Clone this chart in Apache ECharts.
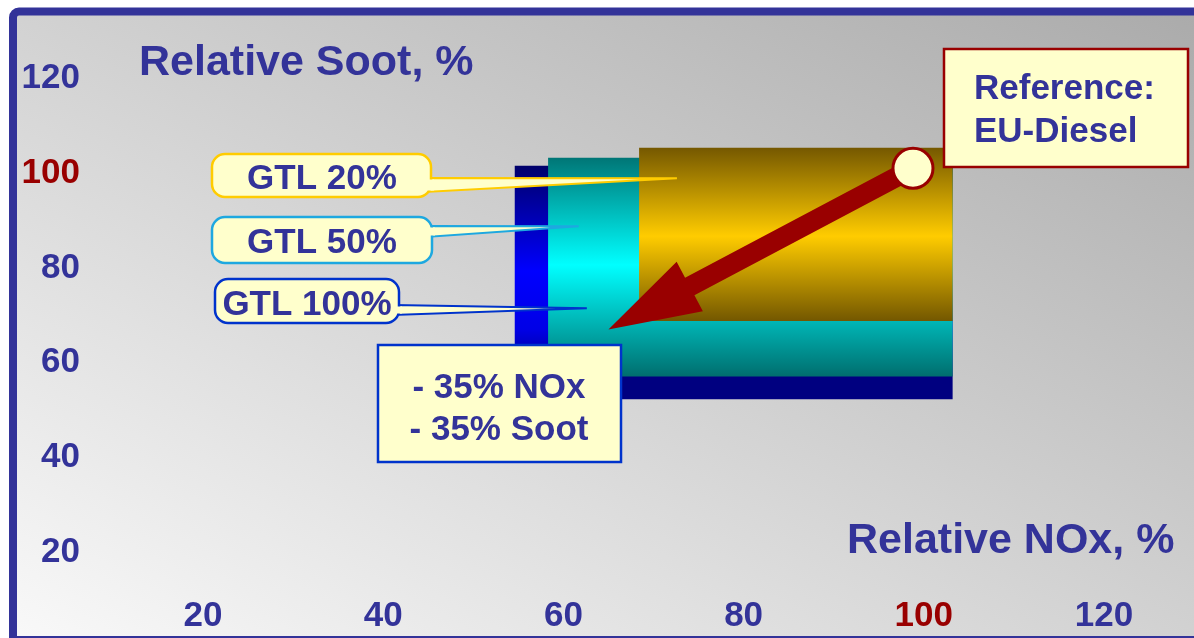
<!DOCTYPE html>
<html>
<head>
<meta charset="utf-8">
<title>GTL blends: relative soot vs. relative NOx</title>
<script src="https://cdn.jsdelivr.net/npm/echarts@6/dist/echarts.min.js"></script>
<style>
  html, body { margin: 0; padding: 0; background: #ffffff; }
  #chart { width: 1194px; height: 638px; }
</style>
</head>
<body>
<div id="chart"></div>
<script>
// ---- Data -------------------------------------------------------------
// Labelled ticks on both axes (% of EU-Diesel)
const tickValues = [20, 40, 60, 80, 100, 120];

// Emission ranges of each fuel blend, in % of EU-Diesel
const blendNames     = ['GTL 100%', 'GTL 50%', 'GTL 20%'];
const blendNoxFrom   = [54.6, 58.3, 68.4];
const blendNoxTo     = [103.2, 103.2, 103.2];
const blendSootFrom  = [52.3, 57.1, 68.8];
const blendSootTo    = [101.5, 103.2, 105.3];

// Points the callout pointers lead to
const calloutNames = ['GTL 20%', 'GTL 50%', 'GTL 100%'];
const calloutNox   = [72.6, 61.7, 62.6];
const calloutSoot  = [98.9, 88.8, 71.5];

// Reference fuel (EU-Diesel) and the end of the reduction arrow
const referencePoint = [98.8, 101];
const reductionPoint = [65, 67];

// ---- Styling ------------------------------------------------------------
const INK = '#333399';
const RED = '#990000';
const PAPER = '#ffffcc';
const FAMILY = '"Liberation Sans", Arial, Helvetica, sans-serif';
const FONT_BODY = 'bold 35px ' + FAMILY;
const FONT_TITLE = 'bold 43px ' + FAMILY;

// Cylinder-like shading (dark - bright - dark) for each blend, same order as blendNames
const blendShades = [
  [['0', '#00006a'], ['0.45', '#0000ff'], ['0.7', '#0000e6'], ['0.9', '#000080'], ['1', '#000080']],
  [['0', '#007676'], ['0.49', '#00ffff'], ['1', '#006e6e']],
  [['0', '#755800'], ['0.51', '#ffcc00'], ['1', '#735700']]
];

// Callout boxes, in pixels, same order as calloutNames
const calloutBoxes = [
  { x: 212, y: 154, w: 219, h: 43, color: '#ffcc00', wedge: [178, 192], tx: 322, ty: 179 },
  { x: 212, y: 217, w: 220, h: 46, color: '#1ea8e0', wedge: [226, 237], tx: 322, ty: 243 },
  { x: 215, y: 279, w: 184, h: 44, color: '#0033cc', wedge: [305, 315], tx: 307, ty: 305 }
];

const blendData = blendNames.map((n, i) => ({
  name: n,
  value: [blendNoxFrom[i], blendSootFrom[i], blendNoxTo[i], blendSootTo[i]]
}));
const calloutData = calloutNames.map((n, i) => ({ name: n, value: [calloutNox[i], calloutSoot[i]] }));

function renderBlend(params, api) {
  const topLeft = api.coord([api.value(0), api.value(3)]);
  const bottomRight = api.coord([api.value(2), api.value(1)]);
  const stops = blendShades[params.dataIndex].map(s => ({ offset: +s[0], color: s[1] }));
  return {
    type: 'rect',
    shape: {
      x: topLeft[0], y: topLeft[1],
      width: bottomRight[0] - topLeft[0],
      height: bottomRight[1] - topLeft[1]
    },
    style: { fill: new echarts.graphic.LinearGradient(0, 0, 0, 1, stops) }
  };
}

function renderArrow(params, api) {
  const a = api.coord([api.value(0), api.value(1)]);
  const b = api.coord([api.value(2), api.value(3)]);
  const dx = b[0] - a[0], dy = b[1] - a[1];
  const len = Math.hypot(dx, dy);
  const ux = dx / len, uy = dy / len;
  const nx = -uy, ny = ux;
  const headLen = 92, headHalf = 28, shaftHalf = 10;
  const bx = b[0] - ux * headLen, by = b[1] - uy * headLen;
  return {
    type: 'polygon',
    shape: {
      points: [
        [a[0] + nx * shaftHalf, a[1] + ny * shaftHalf],
        [bx + nx * shaftHalf, by + ny * shaftHalf],
        [bx + nx * headHalf, by + ny * headHalf],
        [b[0], b[1]],
        [bx - nx * headHalf, by - ny * headHalf],
        [bx - nx * shaftHalf, by - ny * shaftHalf],
        [a[0] - nx * shaftHalf, a[1] - ny * shaftHalf]
      ]
    },
    style: { fill: RED }
  };
}

function renderCallout(params, api) {
  const tip = api.coord([api.value(0), api.value(1)]);
  const box = calloutBoxes[params.dataIndex];
  const right = box.x + box.w;
  return {
    type: 'group',
    children: [
      {
        type: 'polygon',
        shape: { points: [[right - 6, box.wedge[0]], [tip[0], tip[1]], [right - 6, box.wedge[1]]] },
        style: { fill: PAPER, stroke: box.color, lineWidth: 2 }
      },
      {
        type: 'rect',
        shape: { x: box.x, y: box.y, width: box.w, height: box.h, r: 13 },
        style: { fill: PAPER, stroke: box.color, lineWidth: 2.5 }
      },
      {
        type: 'rect',
        shape: { x: right - 3, y: box.wedge[0] + 1.5, width: 6, height: box.wedge[1] - box.wedge[0] - 3 },
        style: { fill: PAPER }
      },
      {
        type: 'text',
        style: {
          text: calloutNames[params.dataIndex],
          x: box.tx, y: box.ty,
          align: 'center', verticalAlign: 'middle',
          font: FONT_BODY, fill: INK
        }
      }
    ]
  };
}

const axisLabelCommon = {
  formatter: v => (tickValues.indexOf(Number(v)) >= 0 ? String(v) : ''),
  color: v => (Number(v) === 100 ? RED : INK),
  fontFamily: FAMILY,
  fontWeight: 'bold',
  fontSize: 35
};

const chart = echarts.init(document.getElementById('chart'), null, { renderer: 'canvas' });

chart.setOption({
  animation: false,
  backgroundColor: '#ffffff',
  grid: { left: 112.9, top: 78.1, width: 991.1, height: 521.9 },
  xAxis: {
    type: 'value', min: 10, max: 120, interval: 10,
    axisLine: { show: false }, axisTick: { show: false }, splitLine: { show: false },
    axisLabel: Object.assign({ margin: 16, verticalAlign: 'middle' }, axisLabelCommon)
  },
  yAxis: {
    type: 'value', min: 10, max: 120, interval: 10,
    axisLine: { show: false }, axisTick: { show: false }, splitLine: { show: false },
    axisLabel: Object.assign({ margin: 33, align: 'right', padding: [4, 0, 0, 0] }, axisLabelCommon)
  },
  graphic: [
    // panel with diagonal shading and a heavy frame on the left and top
    {
      type: 'rect', z: 0,
      shape: { x: 13, y: 11.5, width: 1300, height: 720, r: 6 },
      style: {
        fill: {
          type: 'linear', global: true, x: 0, y: 638, x2: 530, y2: -355,
          colorStops: [{ offset: 0, color: '#f9f9f9' }, { offset: 1, color: '#aaaaaa' }]
        },
        stroke: INK, lineWidth: 8
      }
    },
    {
      type: 'line', z: 1,
      shape: { x1: 13, y1: 637, x2: 1194, y2: 637 },
      style: { stroke: INK, lineWidth: 2 }
    },
    {
      type: 'text', z: 10,
      style: { text: 'Relative Soot, %', x: 139, y: 63, verticalAlign: 'middle', font: FONT_TITLE, fill: INK }
    },
    {
      type: 'text', z: 10,
      style: { text: 'Relative NOx, %', x: 847, y: 541, verticalAlign: 'middle', font: FONT_TITLE, fill: INK }
    },
    // reduction summary
    {
      type: 'rect', z: 10,
      shape: { x: 378, y: 345, width: 243, height: 117 },
      style: { fill: PAPER, stroke: '#0033cc', lineWidth: 2.5 }
    },
    {
      type: 'text', z: 11,
      style: { text: '- 35% NOx', x: 499, y: 388, align: 'center', verticalAlign: 'middle', font: FONT_BODY, fill: INK }
    },
    {
      type: 'text', z: 11,
      style: { text: '- 35% Soot', x: 499, y: 430, align: 'center', verticalAlign: 'middle', font: FONT_BODY, fill: INK }
    },
    // reference fuel note
    {
      type: 'rect', z: 10,
      shape: { x: 944, y: 49, width: 244, height: 118 },
      style: { fill: PAPER, stroke: RED, lineWidth: 2.5 }
    },
    {
      type: 'text', z: 11,
      style: { text: 'Reference:', x: 974, y: 89, verticalAlign: 'middle', font: FONT_BODY, fill: INK }
    },
    {
      type: 'text', z: 11,
      style: { text: 'EU-Diesel', x: 974, y: 132, verticalAlign: 'middle', font: FONT_BODY, fill: INK }
    }
  ],
  series: [
    {
      name: 'Blends', type: 'custom', z: 2, clip: false,
      renderItem: renderBlend,
      encode: { x: [0, 2], y: [1, 3] },
      data: blendData
    },
    {
      name: 'Reduction', type: 'custom', z: 3, clip: false,
      renderItem: renderArrow,
      encode: { x: [0, 2], y: [1, 3] },
      data: [[referencePoint[0], referencePoint[1], reductionPoint[0], reductionPoint[1]]]
    },
    {
      name: 'EU-Diesel', type: 'scatter', z: 4,
      symbol: 'circle', symbolSize: 40,
      itemStyle: { color: PAPER, borderColor: RED, borderWidth: 3, opacity: 1 },
      data: [referencePoint]
    },
    {
      name: 'Callouts', type: 'custom', z: 5, clip: false,
      renderItem: renderCallout,
      encode: { x: 0, y: 1 },
      data: calloutData
    }
  ]
});
</script>
</body>
</html>
